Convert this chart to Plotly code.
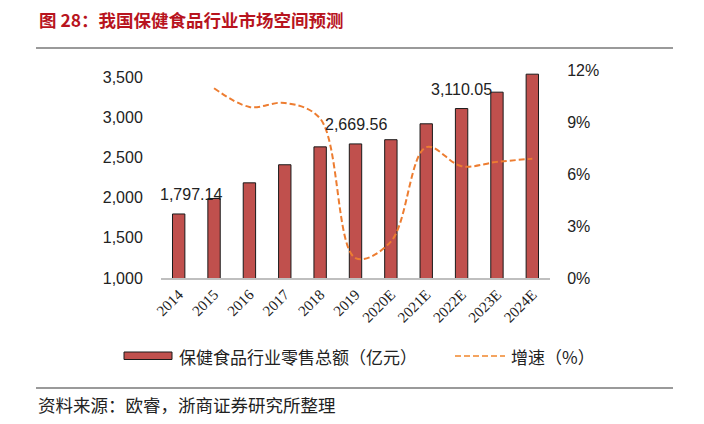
import plotly.graph_objects as go

categories = ["2014", "2015", "2016", "2017", "2018", "2019", "2020E", "2021E", "2022E", "2023E", "2024E"]
sales = [1797.14, 1990, 2185, 2410, 2633, 2669.56, 2722, 2920, 3110.05, 3314, 3538]
growth_cats = categories[1:]
growth = [10.95, 9.87, 10.1, 9.2, 1.15, 2.1, 7.55, 6.45, 6.7, 6.88]
label_idx = [0, 5, 8]
label_text = ["1,797.14", "2,669.56", "3,110.05"]
left_ticks = [1000, 1500, 2000, 2500, 3000, 3500]
right_ticks = [0, 3, 6, 9, 12]
right_ticktext = [f"{v}%" for v in right_ticks]

W, H = 704, 424
L, R, T, B = 161, 550, 70, 278

def px(x):
    return (x - L) / (R - L)

def py(y):
    return (B - y) / (B - T)

fig = go.Figure()
fig.add_trace(go.Bar(
    x=categories, y=sales, width=0.35,
    marker=dict(color="#C0504D", line=dict(color="#1a1a1a", width=1)),
    name="保健食品行业零售总额（亿元）", showlegend=False,
))
fig.add_trace(go.Scatter(
    x=growth_cats, y=growth, yaxis="y2", mode="lines",
    line=dict(color="#ED7D31", width=2, dash="6px,3px", shape="spline", smoothing=1.0),
    name="增速（%）", showlegend=False,
))

annotations = []
for i, t in zip(label_idx, label_text):
    annotations.append(dict(
        x=i, y=sales[i], xref="x", yref="y", text=t, showarrow=False,
        yanchor="middle", xanchor="center", yshift=19, xshift=12 if i == 0 else 0,
        font=dict(family="Liberation Sans, Arial", size=16, color="#222"),
    ))

annotations.append(dict(
    x=px(37), y=py(20), xref="paper", yref="paper", xanchor="left", yanchor="middle",
    text="<b>图 28：我国保健食品行业市场空间预测</b>", showarrow=False,
    font=dict(family="Noto Sans CJK SC", size=17.5, color="#B8141E"),
))
annotations.append(dict(
    x=px(177), y=py(356), xref="paper", yref="paper", xanchor="left", yanchor="middle",
    text="保健食品行业零售总额（亿元）", showarrow=False,
    font=dict(family="Noto Sans CJK SC", size=17, color="#222"),
))
annotations.append(dict(
    x=px(509), y=py(356), xref="paper", yref="paper", xanchor="left", yanchor="middle",
    text="增速（%）", showarrow=False,
    font=dict(family="Noto Sans CJK SC", size=17, color="#222"),
))
annotations.append(dict(
    x=px(36), y=py(404), xref="paper", yref="paper", xanchor="left", yanchor="middle",
    text="资料来源：欧睿，浙商证券研究所整理", showarrow=False,
    font=dict(family="Noto Sans CJK SC", size=17.5, color="#222"),
))

shapes = [
    dict(type="line", xref="paper", yref="paper", x0=px(36), x1=px(673), y0=py(48), y1=py(48),
         line=dict(color="#9a9a9a", width=2)),
    dict(type="line", xref="paper", yref="paper", x0=px(36), x1=px(673), y0=py(388), y1=py(388),
         line=dict(color="#9a9a9a", width=2)),
    dict(type="rect", xref="paper", yref="paper", x0=px(124), x1=px(172), y0=py(352), y1=py(359.5),
         fillcolor="#C0504D", line=dict(color="#1a1a1a", width=1)),
    dict(type="line", xref="paper", yref="paper", x0=px(455), x1=px(505), y0=py(356), y1=py(356),
         line=dict(color="#F4A460", width=2, dash="6px,3px")),
]

fig.update_layout(
    width=W, height=H, autosize=False,
    margin=dict(l=L, r=W - R, t=T, b=H - B, pad=0),
    paper_bgcolor="white", plot_bgcolor="white",
    xaxis=dict(
        type="category", range=[-0.5, len(categories) - 0.5], tickangle=-45, showgrid=False,
        showline=True, linecolor="#bfbfbf", linewidth=2, ticks="",
        tickfont=dict(family="Liberation Serif, Times New Roman", size=15, color="#222"),
    ),
    yaxis=dict(
        range=[1000, 3590], tickmode="array", tickvals=left_ticks, tickformat=",", showgrid=False,
        showline=False, zeroline=False, ticks="outside", ticklen=14, tickcolor="rgba(0,0,0,0)",
        tickfont=dict(family="Liberation Sans, Arial", size=16, color="#222"),
    ),
    yaxis2=dict(
        overlaying="y", side="right", range=[0, 12], tickmode="array", tickvals=right_ticks,
        ticktext=right_ticktext, showgrid=False, showline=False, zeroline=False,
        ticks="outside", ticklen=13, tickcolor="rgba(0,0,0,0)",
        tickfont=dict(family="Liberation Sans, Arial", size=16, color="#222"),
    ),
    annotations=annotations,
    shapes=shapes,
    showlegend=False,
)

fig.write_html("out.html", config={"displayModeBar": False},
               post_script="document.body.style.margin='0px';")
